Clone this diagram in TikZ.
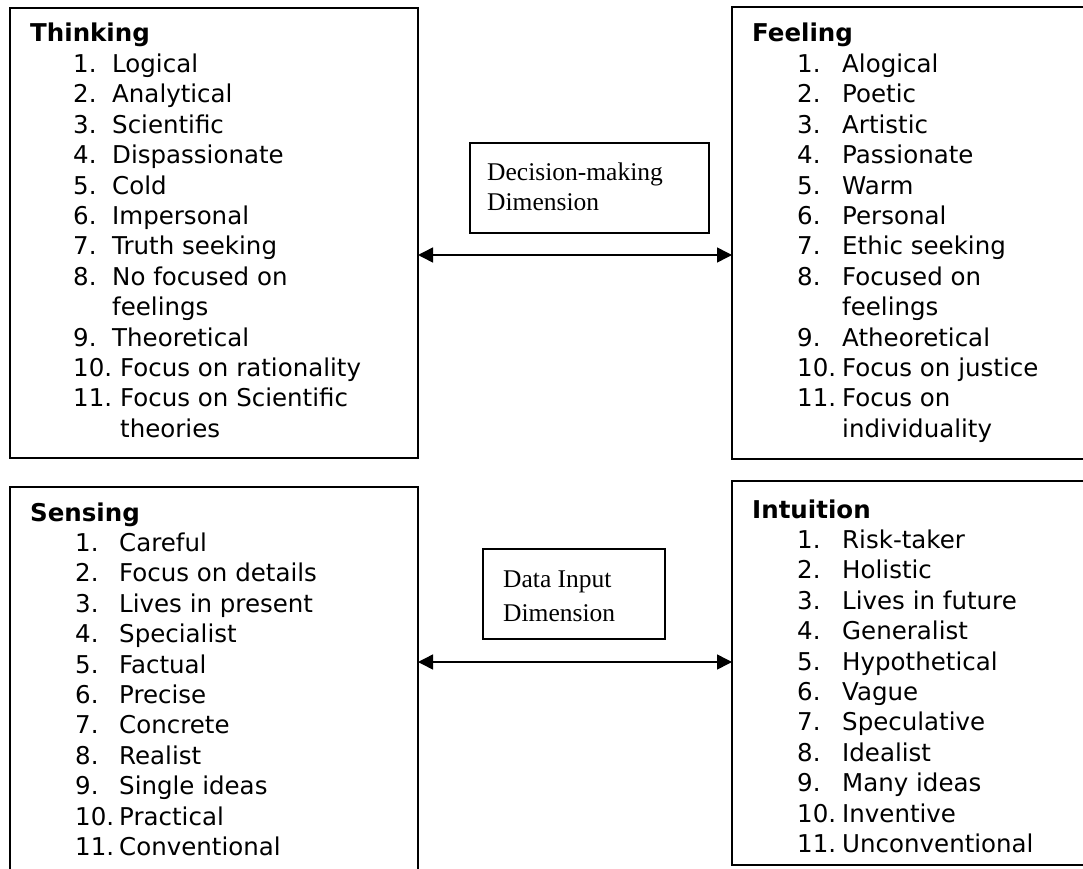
\documentclass[tikz,border=0pt]{standalone}
\usepackage{fontspec}
\usetikzlibrary{arrows.meta}
\newfontfamily\verd{DejaVu Sans}
\newfontfamily\tnr{Liberation Serif}
\begin{document}
\begin{tikzpicture}[x=1pt,y=-1pt,
  box/.style={draw, line width=1.7pt, anchor=north west, inner sep=0pt, outer sep=0pt},
  lbl/.style={anchor=base west, inner sep=0pt, font=\verd\fontsize{24.5}{29}\selectfont},
  ttl/.style={anchor=base west, inner sep=0pt, font=\verd\bfseries\fontsize{24.5}{29}\selectfont},
  dim/.style={anchor=base west, inner sep=0pt, font=\tnr\fontsize{25.5}{29}\selectfont},
  biarrow/.style={line width=1.5pt, {Triangle[length=15pt,width=15pt]}-{Triangle[length=15pt,width=15pt]}}]
\useasboundingbox (0,0) rectangle (1083,869);
\clip (0,0) rectangle (1083,869);
% boxes
\node[box, minimum width=408pt, minimum height=450pt] (think) at (10,8) {};
\node[box, minimum width=370pt, minimum height=452pt] (feel) at (732,7) {};
\node[box, minimum width=408pt, minimum height=400pt] (sense) at (10,487) {};
\node[box, minimum width=370pt, minimum height=384pt] (intu) at (732,481) {};
\node[box, minimum width=239pt, minimum height=90pt] (dec) at (470,143) {};
\node[box, minimum width=182pt, minimum height=90pt] (data) at (483,549) {};
% connectors
\draw[biarrow] (think.east |- 0,255) -- (feel.west |- 0,255);
\draw[biarrow] (sense.east |- 0,662) -- (intu.west |- 0,662);
% middle labels
\node[dim] (dec1) at (487,181) {Decision-making};
\node[dim] (dec2) at (487,210) {Dimension};
\node[dim] (dat1) at (503,587) {Data Input};
\node[dim] (dat2) at (503,621) {Dimension};
% Thinking
\node[ttl] (tht) at (30,42) {Thinking};
\foreach \r/\n/\t/\x in {1/1./Logical/112, 2/2./Analytical/112, 3/3./Scientific/112,
  4/4./Dispassionate/112, 5/5./Cold/112, 6/6./Impersonal/112, 7/7./Truth seeking/112,
  8/8./No focused on/112, 10/9./Theoretical/112, 11/10./Focus on rationality/120,
  12/11./Focus on Scientific/120}
  {\node[lbl] (thn\r) at (73,{42+30.4*\r}) {\n};
   \node[lbl] (tht\r) at (\x,{42+30.4*\r}) {\t};}
\node[lbl] (tht9) at (112,{42+30.4*9}) {feelings};
\node[lbl] (tht13) at (120,{42+30.4*13}) {theories};
% Feeling
\node[ttl] (fet) at (752,42) {Feeling};
\foreach \r/\n/\t in {1/1./Alogical, 2/2./Poetic, 3/3./Artistic, 4/4./Passionate,
  5/5./Warm, 6/6./Personal, 7/7./Ethic seeking, 8/8./Focused on, 10/9./Atheoretical,
  11/10./Focus on justice, 12/11./Focus on}
  {\node[lbl] (fen\r) at (797,{42+30.4*\r}) {\n};
   \node[lbl] (fet\r) at (842,{42+30.4*\r}) {\t};}
\node[lbl] (fet9) at (842,{42+30.4*9}) {feelings};
\node[lbl] (fet13) at (842,{42+30.4*13}) {individuality};
% Sensing
\node[ttl] (set) at (30,521) {Sensing};
\foreach \r/\t in {1/Careful, 2/Focus on details, 3/Lives in present, 4/Specialist,
  5/Factual, 6/Precise, 7/Concrete, 8/Realist, 9/Single ideas, 10/Practical, 11/Conventional}
  {\node[lbl] (sen\r) at (75,{521+30.4*\r}) {\r.};
   \node[lbl] (set\r) at (119,{521+30.4*\r}) {\t};}
% Intuition
\node[ttl] (int) at (752,518) {Intuition};
\foreach \r/\t in {1/Risk-taker, 2/Holistic, 3/Lives in future, 4/Generalist,
  5/Hypothetical, 6/Vague, 7/Speculative, 8/Idealist, 9/Many ideas, 10/Inventive, 11/Unconventional}
  {\node[lbl] (inn\r) at (797,{518+30.4*\r}) {\r.};
   \node[lbl] (int\r) at (842,{518+30.4*\r}) {\t};}
\end{tikzpicture}
\end{document}
